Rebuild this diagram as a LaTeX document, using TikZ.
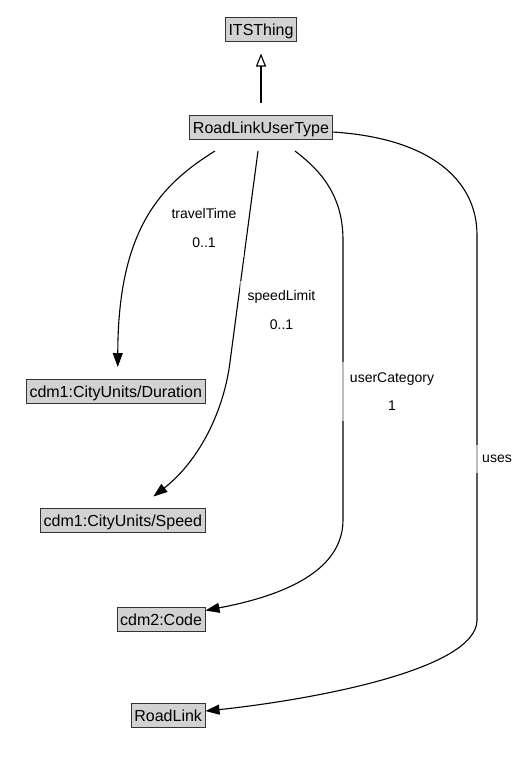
\documentclass[tikz,border=0pt]{standalone}
\usepackage{fontspec}
\setmainfont{Liberation Sans}
\usetikzlibrary{positioning, arrows.meta}

\begin{document}
\begin{tikzpicture}[x=1pt,y=-1pt,on grid,
  cls/.style={draw=black!80, fill=gray!35, line width=1pt,
    font=\fontsize{16}{19}\selectfont, text height=15.5pt, text depth=3.5pt,
    inner xsep=3pt, inner ysep=2.5pt, outer ysep=12pt},
  lbl/.style={font=\fontsize{14}{28.5}\selectfont, align=center,
    fill=white, fill opacity=0.6, text opacity=1, inner xsep=8pt, inner ysep=10pt},
  assoc/.style={-{Triangle[length=14pt,width=10pt]}, line width=1.1pt},
  inherit/.style={-{Triangle[open,length=13pt,width=10pt]}, line width=1.1pt}]
  \useasboundingbox (0,0) rectangle (523,766);
  \node[cls] (its) at (261,29.5) {ITSThing};
  \node[cls] (rlut) [below=97.5pt of its] {RoadLinkUserType};
  \node[cls, anchor=east] (dur) at (205.5,391) {cdm1:CityUnits/Duration};
  \node[cls] (spd) [below=129.5pt of dur.east, anchor=east] {cdm1:CityUnits/Speed};
  \node[cls] (code) [below=98.5pt of spd.east, anchor=east] {cdm2:Code};
  \node[cls] (rl) [below=96pt of code.east, anchor=east] {RoadLink};
  \draw[inherit] (rlut) -- (its);
  \draw[assoc] ([xshift=-46pt]rlut.south) .. controls (160,185) and (118,230) .. ([xshift=2pt]dur.north);
  \draw[assoc] ([xshift=-3pt]rlut.south) -- (230,362) .. controls (224,410) and (200,460) .. (spd);
  \draw[assoc] ([xshift=34pt]rlut.south) .. controls (320,170) and (343,195) .. (343,240)
    -- (343,520) .. controls (343,580) and (260,600) .. (code);
  \draw[assoc] ([yshift=-5pt]rlut.east) .. controls (430,138) and (477,180) .. (477,235)
    -- (477,620) .. controls (477,670) and (310,700) .. (rl);
  \node[lbl] (ttl) at (204,228) {travelTime\\0..1};
  \node[lbl] (sll) at (281.5,310) {speedLimit\\0..1};
  \node[lbl] (ucl) at (392,391.5) {userCategory\\1};
  \node[lbl] (usl) at (497,459) {uses};
\end{tikzpicture}
\end{document}
